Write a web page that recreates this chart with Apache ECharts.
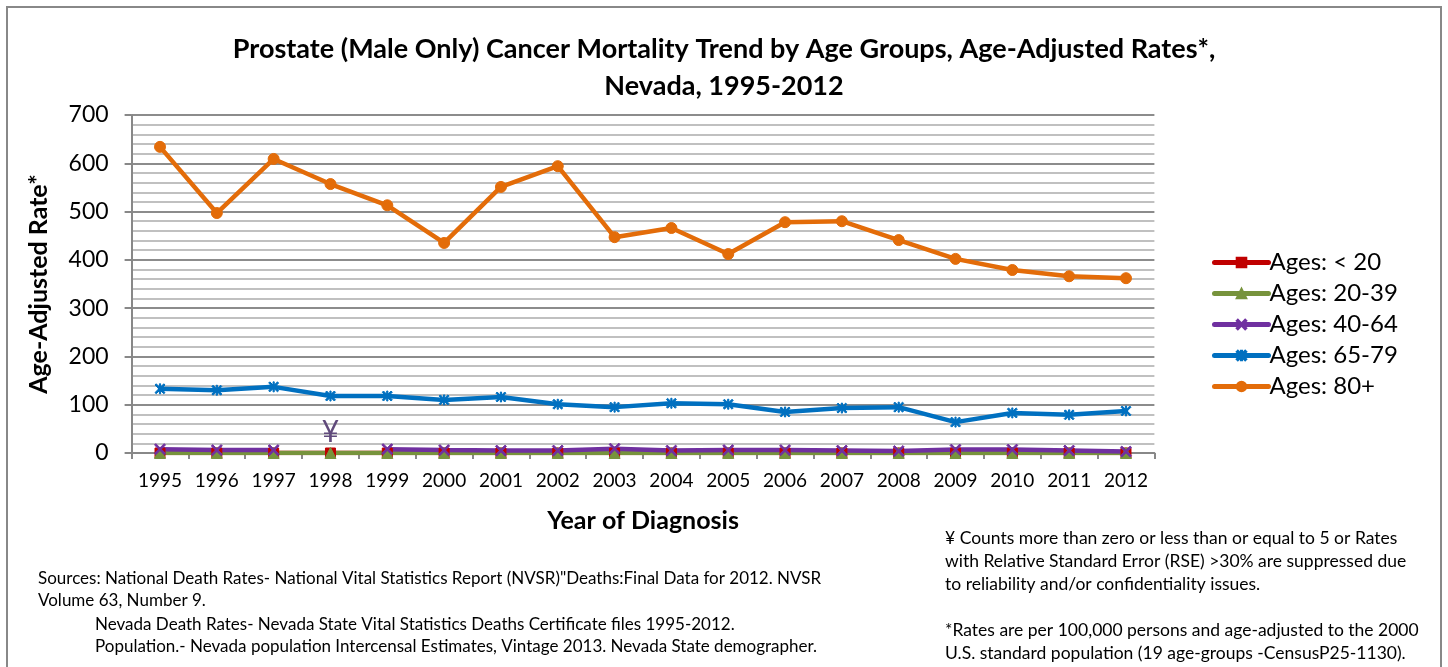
<!DOCTYPE html>
<html style="height: 100%">
<head>
<meta charset="utf-8">
</head>
<body style="height: 100%; margin: 0; background: #fff">
<div id="container" style="width: 1448px; height: 667px"></div>
<script src="https://cdn.jsdelivr.net/npm/echarts@6/dist/echarts.min.js"></script>
<script type="text/javascript">

// years on the x axis
var years = ['1995','1996','1997','1998','1999','2000','2001','2002','2003','2004','2005','2006','2007','2008','2009','2010','2011','2012'];

// rates per 100,000, null = suppressed
var under20  = [0,0,0,0,0,0,0,0,0,0,0,0,0,0,0,0,0,0];
var age20_39 = [0,0,0,0,0,0,0,0,0,0,0,0,0,0,0,0,0,0];
var age40_64 = [8,6,6,null,8,6,5,5,9,5,6,6,5,4,7,7,5,3];
var age65_79 = [133,130,137,118,118,110,116,101,95,103,101,85,93,95,64,83,79,87];
var age80p   = [634,497,609,557,513,435,551,594,447,466,412,478,480,441,402,379,366,362];

var names = ['Ages: < 20','Ages: 20-39','Ages: 40-64','Ages: 65-79','Ages: 80+'];
var yTicks = [0,100,200,300,400,500,600,700];

var FONT = 'Lato';
var xSym = 'path://M0,1.2 L1.2,0 L5,3.8 L8.8,0 L10,1.2 L6.2,5 L10,8.8 L8.8,10 L5,6.2 L1.2,10 L0,8.8 L3.8,5 Z';
var starSym = 'path://M0,1.2 L1.2,0 L5,3.8 L8.8,0 L10,1.2 L6.2,5 L10,8.8 L8.8,10 L5,6.2 L1.2,10 L0,8.8 L3.8,5 Z M4.4,0 L5.6,0 L5.6,10 L4.4,10 Z';

var dom = document.getElementById('container');
var myChart = echarts.init(dom, null, {renderer: 'canvas'});

function mkSeries(name, data, color, symbol, size) {
    return {
        name: name,
        type: 'line',
        data: data,
        symbol: symbol,
        symbolSize: size,
        showAllSymbol: true,
        connectNulls: false,
        lineStyle: {color: color, width: 4.5, cap: 'round'},
        itemStyle: {color: color, borderColor: color, borderWidth: 1},
        emphasis: {disabled: true},
        animation: false
    };
}

var s40 = mkSeries(names[2], age40_64, '#7030a0', xSym, 11);
s40.markPoint = {
    symbol: 'circle', symbolSize: 1,
    itemStyle: {color: 'rgba(0,0,0,0)'},
    label: {show: true, formatter: '¥', color: '#604a7b', fontSize: 30, fontFamily: FONT},
    data: [{coord: ['1998', 42]}]
};

var option = {
    backgroundColor: '#fff',
    textStyle: {fontFamily: FONT},
    title: {
        text: 'Prostate (Male Only) Cancer Mortality Trend by Age Groups, Age-Adjusted Rates*,\nNevada, 1995-2012',
        left: 'center',
        top: 26,
        textStyle: {fontSize: 27, fontWeight: 'bold', color: '#000', lineHeight: 37, fontFamily: FONT}
    },
    legend: {
        orient: 'vertical',
        left: 1207,
        top: 242,
        itemWidth: 54,
        itemHeight: 12,
        itemGap: 0,
        lineStyle: {width: 5, cap: 'round'},
        textStyle: {fontSize: 24, lineHeight: 31, color: '#000', fontFamily: FONT, padding: [0, 0, 0, -4]},
        data: names
    },
    grid: {left: 131.6, right: 293.6, top: 115, bottom: 214, containLabel: false},
    xAxis: {
        type: 'category',
        data: years,
        boundaryGap: true,
        name: 'Year of Diagnosis',
        nameLocation: 'middle',
        nameGap: 55,
        nameTextStyle: {fontSize: 25, fontWeight: 'bold', color: '#000', fontFamily: FONT},
        axisLine: {lineStyle: {color: '#888', width: 2}},
        axisTick: {show: true, length: 6, lineStyle: {color: '#888', width: 2}},
        axisLabel: {fontSize: 19, color: '#000', margin: 18, fontFamily: FONT, interval: 0}
    },
    yAxis: {
        type: 'value',
        min: yTicks[0],
        max: yTicks[yTicks.length - 1],
        interval: 100,
        name: 'Age-Adjusted Rate*',
        nameLocation: 'middle',
        nameGap: 80,
        nameTextStyle: {fontSize: 25, fontWeight: 'bold', color: '#000', fontFamily: FONT},
        axisLine: {show: true, lineStyle: {color: '#888', width: 2}},
        axisTick: {show: true, length: 7, lineStyle: {color: '#888', width: 2}},
        axisLabel: {fontSize: 23, color: '#000', margin: 23, fontFamily: FONT},
        splitLine: {lineStyle: {color: '#8c8c8c', width: 2}},
        minorTick: {show: false, splitNumber: 5},
        minorSplitLine: {show: true, lineStyle: {color: '#c0c0c0', width: 2}}
    },
    series: [
        mkSeries(names[0], under20, '#c00000', 'rect', 10),
        mkSeries(names[1], age20_39, '#77933c', 'triangle', 11),
        s40,
        mkSeries(names[3], age65_79, '#0070c0', starSym, 10),
        mkSeries(names[4], age80p, '#e36c09', 'circle', 11)
    ],
    graphic: [
        {type: 'rect', shape: {x: 7, y: 7, width: 1434, height: 680}, style: {fill: 'none', stroke: '#888', lineWidth: 2}, silent: true},
        {type: 'text', left: 38, top: 570, style: {text: 'Sources: National Death Rates- National Vital Statistics Report (NVSR)"Deaths:Final Data for 2012. NVSR', fontSize: 17, fontFamily: FONT, fill: '#000'}},
        {type: 'text', left: 38, top: 592, style: {text: 'Volume 63, Number 9.', fontSize: 17, fontFamily: FONT, fill: '#000'}},
        {type: 'text', left: 95, top: 616, style: {text: 'Nevada Death Rates- Nevada State Vital Statistics Deaths Certificate files 1995-2012.', fontSize: 17, fontFamily: FONT, fill: '#000'}},
        {type: 'text', left: 95, top: 638, style: {text: 'Population.- Nevada population Intercensal Estimates, Vintage 2013. Nevada State demographer.', fontSize: 17, fontFamily: FONT, fill: '#000'}},
        {type: 'text', left: 945, top: 527, style: {text: '¥ Counts more than zero or less than or equal to 5 or Rates\nwith Relative Standard Error (RSE) >30% are suppressed due\nto reliability and/or confidentiality issues.\n\n*Rates are per 100,000 persons and age-adjusted to the 2000\nU.S. standard population (19 age-groups -CensusP25-1130).', fontSize: 17.5, lineHeight: 23, fontFamily: FONT, fill: '#000'}}
    ]
};

myChart.setOption(option);

</script>
</body>
</html>
